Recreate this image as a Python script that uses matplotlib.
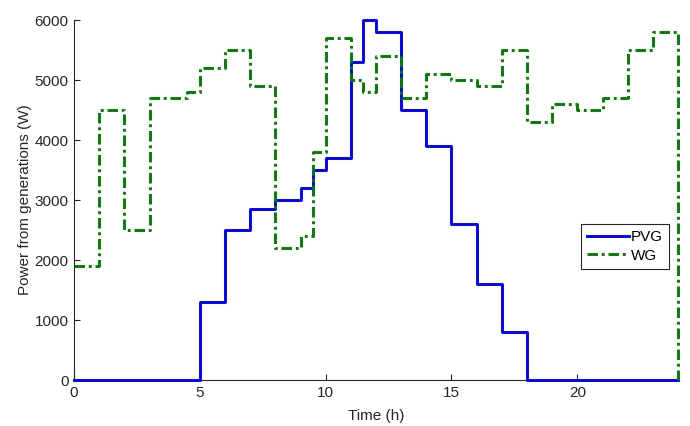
import matplotlib
matplotlib.use("Agg")
import matplotlib.pyplot as plt

# Data (step breakpoints in hours and the value held from each breakpoint)
pvg_time = [0, 5, 6, 7, 8, 9, 9.5, 10, 11, 11.5, 12, 13, 14, 15, 16, 17, 18, 24]
pvg_power = [0, 1300, 2500, 2850, 3000, 3200, 3500, 3700, 5300, 6000, 5800,
             4500, 3900, 2600, 1600, 800, 0, 0]

wg_time = [0, 1, 2, 3, 4.5, 5, 6, 7, 8, 9, 9.5, 10, 11, 11.5, 12, 13, 14, 15,
           16, 17, 18, 19, 20, 21, 22, 23, 24]
wg_power = [1900, 4500, 2500, 4700, 4800, 5200, 5500, 4900, 2200, 2400, 3800,
            5700, 5000, 4800, 5400, 4700, 5100, 5000, 4900, 5500, 4300, 4600,
            4500, 4700, 5500, 5800, 0]

x_ticks = [0, 5, 10, 15, 20]
y_ticks = [0, 1000, 2000, 3000, 4000, 5000, 6000]

plt.rcParams['font.family'] = ['Liberation Sans', 'DejaVu Sans']
plt.rcParams['font.size'] = 11

fig = plt.figure(figsize=(6.9, 4.26), dpi=100)
ax = fig.add_axes([74/690, 46/426, 604/690, 360/426])

ax.step(pvg_time, pvg_power, where='post', color=(0, 0, 1), lw=2.1,
        label='PVG', clip_on=False, zorder=3)
ln, = ax.step(wg_time, wg_power, where='post', color=(0, 0.5, 0), lw=2.1,
              label='WG', linestyle='-.', clip_on=False, zorder=3)
ln.set_dashes((3.6, 1.3, 1.0, 1.3))

ax.set_xlim(0, 24)
ax.set_ylim(0, 6000)
ax.set_xticks(x_ticks)
ax.set_yticks(y_ticks)
ax.spines['top'].set_visible(False)
ax.spines['right'].set_visible(False)
for s in ('left', 'bottom'):
    ax.spines[s].set_linewidth(0.8)
    ax.spines[s].set_color('#262626')
ax.tick_params(direction='in', length=4, width=0.8, colors='#262626',
               labelcolor='#262626', labelsize=11)
ax.tick_params(axis='x', pad=4)
ax.tick_params(axis='y', pad=4)

ax.set_xlabel('Time (h)', fontsize=11, color='#262626', labelpad=7)
ax.set_ylabel('Power from generations (W)', fontsize=11, color='#262626', labelpad=2)

leg = ax.legend(loc='upper left', bbox_to_anchor=(0.839, 0.433), borderaxespad=0,
                fancybox=False, edgecolor='#262626', framealpha=1,
                handlelength=2.75, handletextpad=0.15, borderpad=0.4,
                labelspacing=0.3, fontsize=11)
leg.get_frame().set_linewidth(0.8)

fig.savefig('out.png', dpi=100)
